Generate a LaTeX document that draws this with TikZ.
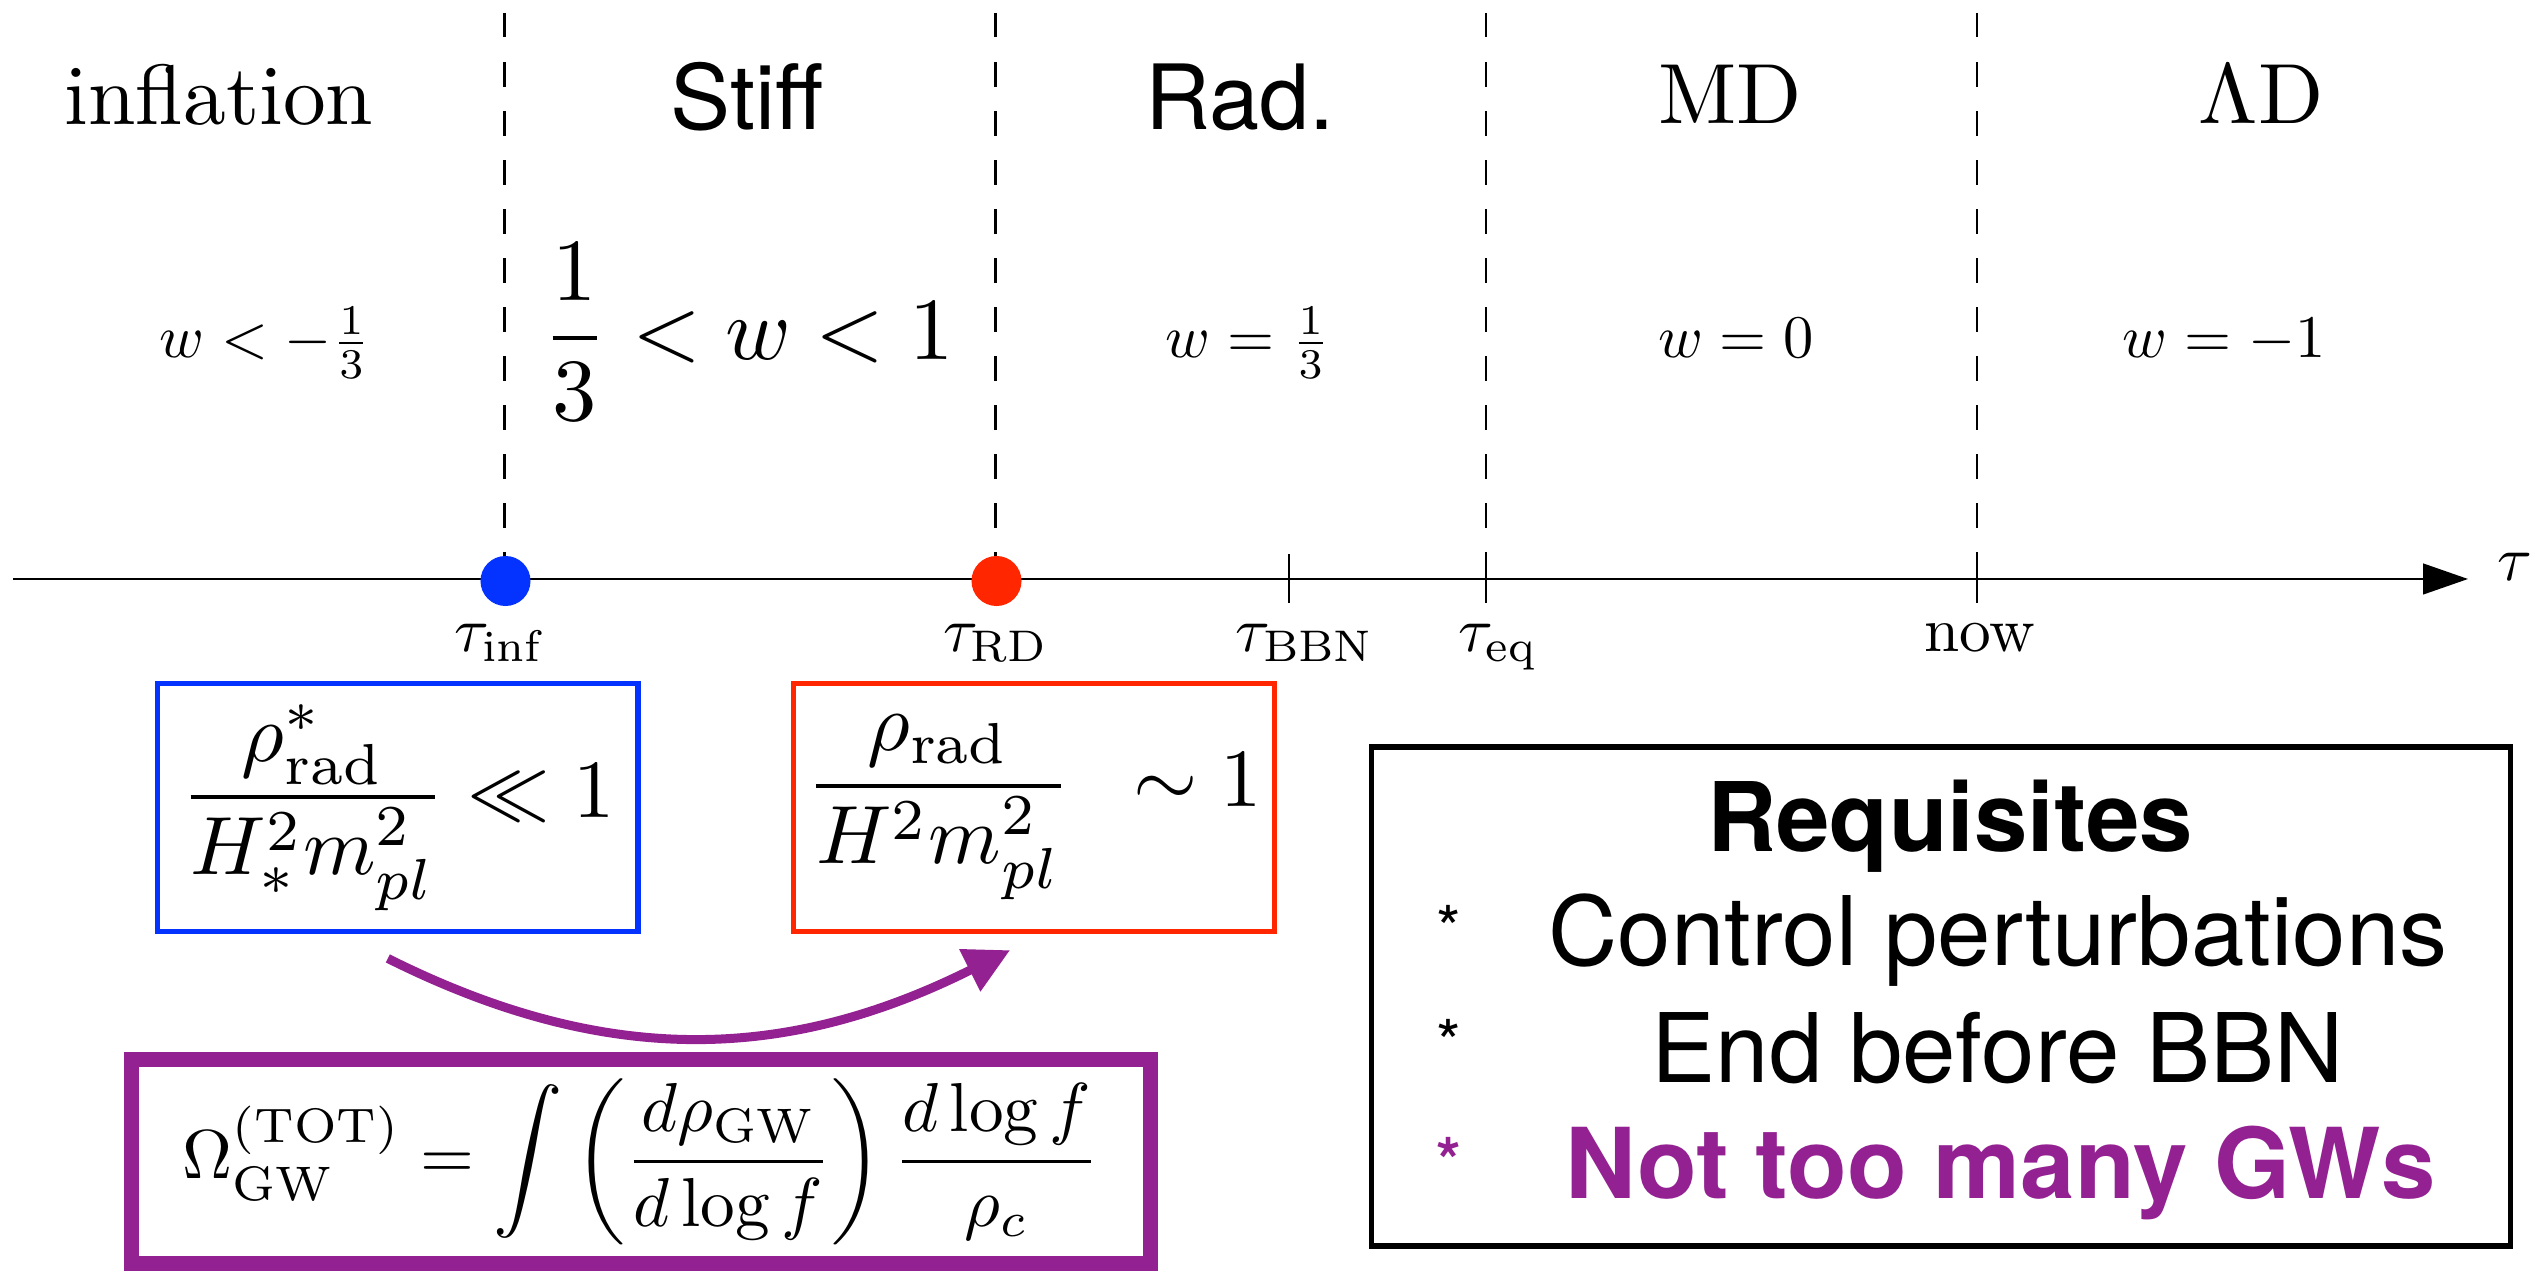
\documentclass[tikz,border=0pt]{standalone}
\usepackage{graphicx}
\usepackage{amsmath}
\usepackage{fontspec}
\newfontfamily\heros{TeX Gyre Heros}
\usetikzlibrary{arrows.meta,calc}

\definecolor{kblue}{HTML}{0433FF}
\definecolor{kred}{HTML}{FF2600}
\definecolor{kplum}{HTML}{942192}

\newcommand\setfs[1]{\fontsize{#1}{#1}\selectfont}
% 10pt Computer Modern text, magnified
\newcommand\cmtext[2]{\scalebox{#1}{\fontsize{10pt}{12pt}\selectfont #2}}

\begin{document}
\begin{tikzpicture}[x=0.01cm,y=-0.01cm,
  every node/.style={inner sep=0pt, outer sep=0pt},
  baselabel/.style={anchor=base},
  erasans/.style={anchor=base, font=\heros\setfs{25.6pt}},
  boundary/.style={line width=0.023cm, dash pattern=on 0.245cm off 0.245cm},
  tickmark/.style={line width=0.023cm},
  eventdot/.style={circle, minimum size=0.5cm},
  condbox/.style={draw, minimum width=4.80cm, minimum height=2.477cm},
  reqline/.style={anchor=base, font=\heros\setfs{27.3pt}},
  bullet/.style={anchor=base, font=\heros\setfs{18pt}},
  gwarrow/.style={draw=kplum, line width=0.09cm, -{Triangle[length=0.45cm,width=0.45cm]}, kplum}
]
\useasboundingbox (0,0) rectangle (2542,1274);
\fill[white] (0,0) rectangle (2542,1274);

% era boundaries
\foreach \bx in {504.5, 995.5, 1486, 1977}
  \draw[boundary] (\bx,13) -- (\bx,579);

% time axis
\coordinate (tstart) at (13,579);
\coordinate (tend) at (2468,579);
\draw[line width=0.023cm, -{Triangle[length=0.45cm,width=0.307cm]}] (tstart) -- (tend);
\node[baselabel] (taulab) at (2515,581) {\cmtext{1.8}{$\tau$}};

% tick marks
\foreach \tx in {1289, 1486, 1977}
  \draw[tickmark] (\tx,554) -- (\tx,603);

% transition events
\node[eventdot, fill=kblue] (dotinf) at (505.5,581) {};
\node[eventdot, fill=kred] (dotrd) at (996.5,581) {};

% tick labels
\node[baselabel] (linf) at (499,652) {\cmtext{1.8}{$\tau_{\mathrm{inf}}$}};
\node[baselabel] (lrd) at (996,652) {\cmtext{1.8}{$\tau_{\mathrm{RD}}$}};
\node[baselabel] (lbbn) at (1305,652) {\cmtext{1.8}{$\tau_{\mathrm{BBN}}$}};
\node[baselabel] (leq) at (1498,652) {\cmtext{1.8}{$\tau_{\mathrm{eq}}$}};
\node[baselabel] (lnow) at (1980,652) {\cmtext{1.8}{now}};

% era names
\node[baselabel] (einf) at (219,125) {\cmtext{2.43}{inflation}};
\node[erasans] (estiff) at (747,130) {Stiff};
\node[erasans] (erad) at (1240,130) {Rad.};
\node[baselabel] (emd) at (1730,124) {\cmtext{2.43}{MD}};
\node[baselabel] (elam) at (2261,124) {\cmtext{2.43}{$\Lambda$D}};

% equations of state
\node[baselabel] (winf) at (265,358) {\cmtext{1.72}{$w<-\frac{1}{3}$}};
\node[baselabel] (wstiff) at (748,360) {\cmtext{2.52}{$\displaystyle \frac{1}{3}<w<1$}};
\node[baselabel] (wrad) at (1248,358) {\cmtext{1.72}{$w=\frac{1}{3}$}};
\node[baselabel] (wmd) at (1736,358) {\cmtext{1.72}{$w=0$}};
\node[baselabel] (wlam) at (2224,358) {\cmtext{1.72}{$w=-1$}};

% conditions at the two transitions
\node[condbox, draw=kblue, line width=0.053cm] (blue) at (397.8,807.5)
  {\cmtext{2.35}{$\displaystyle \frac{\rho^*_{\mathrm{rad}}}{H_*^2 m_{pl}^2} \ll 1$}};
\node[condbox, draw=kred, line width=0.05cm] (red) at (1034,807.3)
  {\cmtext{2.35}{$\displaystyle \frac{\rho_{\mathrm{rad}}}{H^2 m_{pl}^2}\hspace{4.8pt}\sim 1$}};

% evolution between the two conditions
\draw[gwarrow] ($(blue.south)+(-10,27)$) .. controls ($(blue.south)+(210,137)$) and ($(red.south)+(-246,130)$) .. ($(red.south)+(-24,19)$);

% total GW energy density
\node[draw=kplum, line width=0.15cm, minimum width=10.185cm, minimum height=2.04cm] (omega) at (641.25,1161.5)
  {\cmtext{1.97}{$\displaystyle \Omega^{(\mathrm{TOT})}_{\mathrm{GW}} = \int \left(\frac{d\rho_{\mathrm{GW}}}{d\log f}\right)\frac{d\log f}{\rho_c}$}};

% requisites
\node[draw, line width=0.055cm, minimum width=11.38cm, minimum height=4.99cm] (req) at (1941,996.5) {};
\node[anchor=base, font=\heros\bfseries\setfs{27.3pt}] (reqtitle) at (1950,852) {Requisites};
\node[bullet] (b1) at (1449,952) {*};
\node[reqline] (req1) at (1998,966) {Control perturbations};
\node[bullet] (b2) at (1449,1066) {*};
\node[reqline] (req2) at (1997.5,1082.5) {End before BBN};
\node[bullet, font=\heros\bfseries\setfs{18pt}, text=kplum] (b3) at (1449,1183.5) {*};
\node[anchor=base, font=\heros\bfseries\setfs{27.8pt}, text=kplum] (req3) at (2000.5,1199) {Not too many GWs};
\end{tikzpicture}
\end{document}
